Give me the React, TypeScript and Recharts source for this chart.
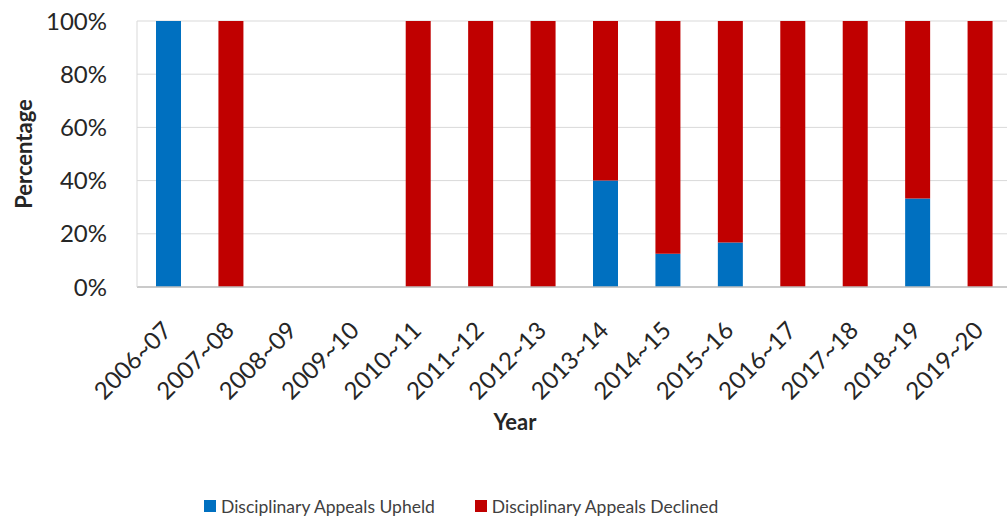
import React from "react";
import { Bar, BarChart, CartesianGrid, Legend, XAxis, YAxis } from "recharts";

const years = [
  "2006~07", "2007~08", "2008~09", "2009~10", "2010~11", "2011~12", "2012~13",
  "2013~14", "2014~15", "2015~16", "2016~17", "2017~18", "2018~19", "2019~20",
];
const upheld = [100, 0, 0, 0, 0, 0, 0, 40, 12.5, 16.7, 0, 0, 33.3, 0];
const declined = [0, 100, 0, 0, 100, 100, 100, 60, 87.5, 83.3, 100, 100, 66.7, 100];
const yTicks = [0, 20, 40, 60, 80, 100];

const BLUE = "#0070C0";
const RED = "#C00000";
const FONT = "Lato, 'Open Sans', sans-serif";

const data = years.map((year, i) => ({ year, upheld: upheld[i], declined: declined[i] }));

function YearTick({ x, y, payload }: any) {
  const tx = x + 5;
  const ty = y + 37;
  return (
    <text
      x={tx}
      y={ty}
      transform={`rotate(-45 ${tx} ${ty})`}
      textAnchor="end"
      fontSize={24}
      fontFamily={FONT}
      fill="#262626"
    >
      {payload.value}
    </text>
  );
}

const yearLabel = () => (
  <text x={515} y={430} textAnchor="middle" fontSize={22} fontWeight="bold" fontFamily={FONT} fill="#262626">
    Year
  </text>
);

const percentLabel = () => (
  <text
    x={23}
    y={154}
    transform="rotate(-90 23 154)"
    textAnchor="middle"
    dominantBaseline="central"
    fontSize={22}
    fontWeight="bold"
    fontFamily={FONT}
    fill="#262626"
  >
    Percentage
  </text>
);

function LegendBox() {
  const items = [
    { label: "Disciplinary Appeals Upheld", color: BLUE },
    { label: "Disciplinary Appeals Declined", color: RED },
  ];
  return (
    <div style={{ display: "flex", height: 38, boxSizing: "border-box", alignItems: "center", paddingLeft: 204, paddingTop: 6 }}>
      {items.map((it, i) => (
        <div key={it.label} style={{ display: "flex", alignItems: "center", marginLeft: i ? 40 : 0 }}>
          <span style={{ width: 12, height: 12, background: it.color, marginRight: 5, display: "inline-block" }} />
          <span style={{ fontFamily: FONT, fontSize: 17.5, color: "#404040" }}>{it.label}</span>
        </div>
      ))}
    </div>
  );
}

export default function App() {
  return (
    <div style={{ position: "fixed", left: 0, top: 0, width: 1007, height: 522, overflow: "hidden", background: "#fff" }}>
      <BarChart
        width={1011}
        height={522}
        data={data}
        margin={{ top: 21, right: 0, left: 0, bottom: 0 }}
        barSize={25}
      >
        <CartesianGrid stroke="#d9d9d9" vertical={false} />
        <XAxis
          dataKey="year"
          interval={0}
          height={197}
          tickLine={false}
          axisLine={{ stroke: "#bfbfbf", strokeWidth: 1.5 }}
          tick={<YearTick />}
          label={{ value: "Year", content: yearLabel }}
        />
        <YAxis
          width={137}
          domain={[0, 100]}
          ticks={yTicks}
          tickFormatter={(v) => `${v}%`}
          tickLine={false}
          axisLine={{ stroke: "#d9d9d9" }}
          tickMargin={24}
          tick={{ fontSize: 24, fontFamily: FONT, fill: "#262626" }}
          label={{ value: "Percentage", content: percentLabel }}
        />
        <Legend verticalAlign="bottom" content={<LegendBox />} wrapperStyle={{ width: 1007, left: 0 }} />
        <Bar dataKey="upheld" stackId="a" fill={BLUE} isAnimationActive={false} />
        <Bar dataKey="declined" stackId="a" fill={RED} isAnimationActive={false} />
      </BarChart>
    </div>
  );
}
